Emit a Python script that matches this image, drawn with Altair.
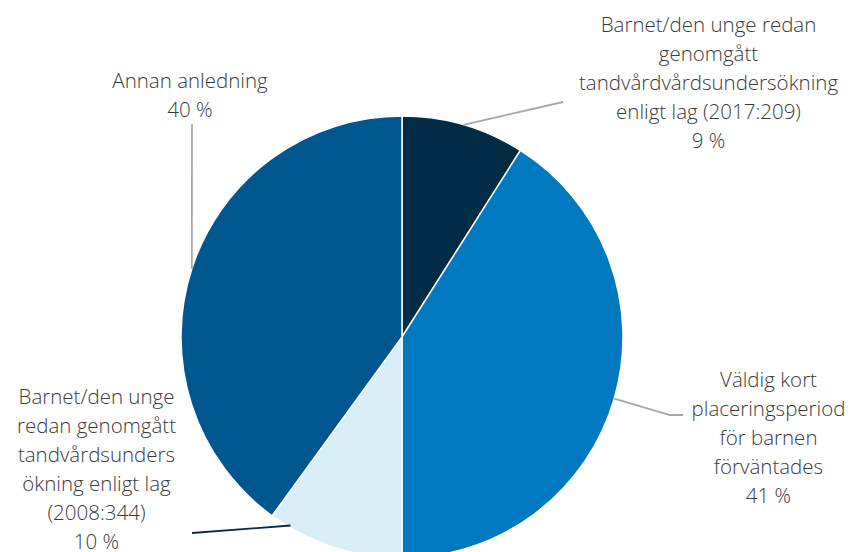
import math
import altair as alt
import pandas as pd

# ---- data ----
categories = [
    "Barnet/den unge redan genomgått tandvårdvårdsundersökning enligt lag (2017:209)",
    "Väldig kort placeringsperiod för barnen förväntades",
    "Barnet/den unge redan genomgått tandvårdsundersökning enligt lag (2008:344)",
    "Annan anledning",
]
values = [9, 41, 10, 40]
label_lines = [
    ["Barnet/den unge redan", "genomgått", "tandvårdvårdsundersökning", "enligt lag (2017:209)"],
    ["Väldig kort", "placeringsperiod", "för barnen", "förväntades"],
    ["Barnet/den unge", "redan genomgått", "tandvårdsunders", "ökning enligt lag", "(2008:344)"],
    ["Annan anledning"],
]

# ---- style / layout ----
colors = ["#022b45", "#0079c1", "#daeef7", "#00578f"]
CX, CY, R = 394, 329, 221
label_pos = [(700.5, 8.0), (760.5, 362.5), (88.5, 379.5), (182, 64)]
anchor_frac = [0.5, 0.5, 0.85, 0.5]
anchor_r = [221, 221, 219, 221]
leader_rest = [
    [(555, 94)],
    [(662, 407), (675, 407)],
    [(184, 525)],
    [(184, 116)],
]
leader_color = ["#a6a6a6", "#a6a6a6", "#0b2a45", "#a6a6a6"]

total = sum(values)
pie_df = pd.DataFrame({"category": categories, "value": values, "idx": range(len(values))})

rows = []
cum = 0
for i, v in enumerate(values):
    ang = (cum + v * anchor_frac[i]) / total * 2 * math.pi
    cum += v
    sx = CX + anchor_r[i] * math.sin(ang)
    sy = CY - anchor_r[i] * math.cos(ang)
    pts = [(sx, sy)] + leader_rest[i]
    for k, (px, py) in enumerate(pts):
        rows.append({"seg": str(i), "k": k, "px": px, "py": py, "lc": leader_color[i]})
line_df = pd.DataFrame(rows)

text_df = pd.DataFrame({
    "lines": [ll + [f"{v} %"] for ll, v in zip(label_lines, values)],
    "lx": [p[0] for p in label_pos],
    "ly": [p[1] for p in label_pos],
})

pie = alt.Chart(pie_df).mark_arc(radius=R, stroke="white", strokeWidth=1.5).encode(
    theta=alt.Theta("value:Q", stack=True),
    color=alt.Color("category:N", scale=alt.Scale(domain=categories, range=colors), legend=None),
    order=alt.Order("idx:Q"),
    x=alt.value(CX),
    y=alt.value(CY),
)

leaders = alt.Chart(line_df).mark_line(strokeWidth=1.8).encode(
    x=alt.X("px:Q", scale=None, axis=None),
    y=alt.Y("py:Q", scale=None, axis=None),
    detail="seg:N",
    order="k:Q",
    color=alt.Color("lc:N", scale=None),
)

labels = alt.Chart(text_df).mark_text(
    font="Open Sans", fontSize=20.5, fontWeight=300, color="#3a3a3a", lineHeight=29,
    align="center", baseline="top",
).encode(
    x=alt.X("lx:Q", scale=None, axis=None),
    y=alt.Y("ly:Q", scale=None, axis=None),
    text=alt.Text("lines"),
)

chart = alt.layer(pie, leaders, labels).properties(
    width=840, height=544, autosize="none", padding=0
).configure_view(stroke=None)

chart.save("out.html", embed_options={"renderer": "svg", "actions": False})
